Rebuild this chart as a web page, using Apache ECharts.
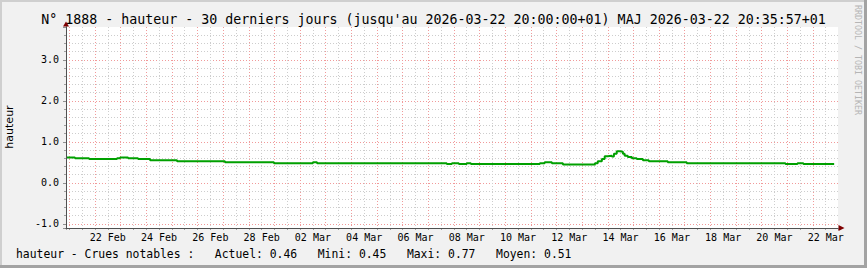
<!DOCTYPE html>
<html>
<head>
<meta charset="utf-8">
<script src="https://cdn.jsdelivr.net/npm/echarts@6/dist/echarts.min.js"></script>
<style>
html,body{margin:0;padding:0;background:#f1f1f1;}
#c{width:867px;height:268px;}
</style>
</head>
<body>
<div id="c"></div>
<script>
// time in days since 22 Feb 2026 00:00 (+01); each value holds until the next time (step)
const days = [-1.13, -0.78, -0.23, 0.86, 0.98, 1.29, 1.68, 2.15, 3.2, 5.07, 6.98, 8.5, 8.66, 13.72, 13.92, 14.19, 14.5, 14.66, 17.35, 17.54, 17.82, 18.25, 19.5, 19.61, 19.77, 19.88, 20.0, 20.16, 20.24, 20.35, 20.47, 20.59, 20.66, 20.78, 20.94, 21.13, 21.37, 21.6, 22.34, 23.08, 26.93, 27.4, 27.63, 28.83];
const values = [0.62, 0.60, 0.58, 0.60, 0.62, 0.60, 0.58, 0.55, 0.53, 0.50, 0.48, 0.50, 0.48, 0.46, 0.48, 0.46, 0.48, 0.46, 0.48, 0.50, 0.48, 0.45, 0.48, 0.53, 0.58, 0.65, 0.66, 0.64, 0.71, 0.77, 0.76, 0.71, 0.66, 0.63, 0.60, 0.58, 0.55, 0.53, 0.50, 0.48, 0.46, 0.48, 0.46, 0.46];
// x labels every 2 days (day offsets 0,2,...,28), centred at noon
const xTickLabels = ['22 Feb','24 Feb','26 Feb','28 Feb','02 Mar','04 Mar','06 Mar','08 Mar','10 Mar','12 Mar','14 Mar','16 Mar','18 Mar','20 Mar','22 Mar'];
const yTickLabels = ['-1.0','0.0','1.0','2.0','3.0'];
const statNames = ['Actuel','Mini','Maxi','Moyen'];
const statValues = [0.46, 0.45, 0.77, 0.51];
const titleText = "N° 1888 - hauteur - 30 derniers jours (jusqu'au 2026-03-22 20:00:00+01) MAJ 2026-03-22 20:35:57+01";

const xMin = -1.13, xMax = 28.98, yMin = -1.1, yMax = 3.8;
const MONO = 'DejaVu Sans Mono';
const minorGrid = {color:'#CDCDCD', type:[1,2], width:1};
const majorGrid = {color:'#F19A9A', type:[1,2], width:1};

const legendText = 'hauteur - Crues notables :   ' +
  statNames.map(function(n,i){ return n + ': ' + statValues[i].toFixed(2); }).join('   ');

const chart = echarts.init(document.getElementById('c'), null, {renderer:'svg', width:867, height:268});

const base = {type:'value', axisLine:{show:false, onZero:false}, axisTick:{show:false}, axisLabel:{show:false}, splitLine:{show:false}};

chart.setOption({
  animation:false,
  backgroundColor:'#F1F1F1',
  grid:{left:66, right:29, top:27, bottom:40, show:true, backgroundColor:'#FFFFFF', borderWidth:0},
  xAxis:[
    Object.assign({}, base, {min:xMin, max:xMax, position:'bottom', splitNumber:60, minInterval:0.5, maxInterval:0.5,
      axisTick:{show:true, length:2, lineStyle:{color:'#A0A0A0'}},
      splitLine:{show:true, showMinLine:false, showMaxLine:false, lineStyle:minorGrid}}),
    Object.assign({}, base, {min:xMin, max:xMax, position:'bottom', splitNumber:30, minInterval:1, maxInterval:1,
      axisLine:{show:true, onZero:false, symbol:['none','triangle'], symbolSize:[6,6], symbolOffset:[0,3.5], lineStyle:{color:'#7F0000', width:1}},
      splitLine:{show:true, showMinLine:false, showMaxLine:false, lineStyle:majorGrid}}),
    Object.assign({}, base, {min:xMin-0.5, max:xMax-0.5, position:'bottom', splitNumber:15, minInterval:2, maxInterval:2,
      axisLabel:{show:true, margin:4, fontFamily:MONO, fontSize:10, color:'#000',
        formatter:function(v){ const k = Math.round(v/2); return (Math.abs(v-2*k) < 1e-6 && xTickLabels[k]) ? xTickLabels[k] : ''; }}}),
    Object.assign({}, base, {min:xMin, max:xMax, position:'bottom', z:5,
      axisLine:{show:true, onZero:false, lineStyle:{color:'#505050', width:1}}})
  ],
  yAxis:[
    Object.assign({}, base, {min:yMin, max:yMax, position:'left', splitNumber:25, minInterval:0.2, maxInterval:0.2,
      axisTick:{show:true, length:2, lineStyle:{color:'#A0A0A0'}},
      splitLine:{show:true, showMinLine:false, showMaxLine:false, lineStyle:minorGrid}}),
    Object.assign({}, base, {min:yMin, max:yMax, position:'left', splitNumber:5, minInterval:1, maxInterval:1,
      axisLine:{show:true, onZero:false, symbol:['none','triangle'], symbolSize:[6,5], symbolOffset:[0,3], lineStyle:{color:'#7F0000', width:1}},
      axisTick:{show:true, length:3, lineStyle:{color:'#909090'}},
      axisLabel:{show:true, margin:7, fontFamily:MONO, fontSize:10, color:'#000',
        formatter:function(v){ const k = Math.round(v); return Math.abs(v-k) < 1e-6 && yTickLabels[k+1] ? yTickLabels[k+1] : ''; }},
      splitLine:{show:true, showMinLine:false, showMaxLine:false, lineStyle:majorGrid}}),
    Object.assign({}, base, {min:yMin, max:yMax, position:'left', z:5,
      axisLine:{show:true, onZero:false, lineStyle:{color:'#505050', width:1}}})
  ],
  series:[{
    type:'line', xAxisIndex:0, yAxisIndex:0, step:'end', showSymbol:false, symbol:'none', z:3,
    lineStyle:{color:'#00A000', width:2}, itemStyle:{color:'#00A000'},
    data: days.map(function(d,i){ return [d, values[i]]; })
  }],
  graphic:[
    {type:'rect', z:10, shape:{x:0, y:0, width:867, height:2}, style:{fill:'#CFCFCF'}},
    {type:'rect', z:10, shape:{x:0, y:0, width:2, height:268}, style:{fill:'#CFCFCF'}},
    {type:'rect', z:10, shape:{x:864, y:0, width:3, height:268}, style:{fill:'#A3A3A3'}},
    {type:'rect', z:10, shape:{x:0, y:265, width:867, height:3}, style:{fill:'#A3A3A3'}},
    {type:'text', z:10, x:433.5, y:19, style:{text:titleText, font:'13.3px "DejaVu Sans Mono"', fill:'#000', align:'center', verticalAlign:'middle'}},
    {type:'text', z:10, x:16, y:254, style:{text:legendText, font:'11.4px "DejaVu Sans Mono"', fill:'#000', align:'left', verticalAlign:'middle'}},
    {type:'text', z:10, x:9, y:127, rotation:Math.PI/2, style:{text:'hauteur', font:'11px "DejaVu Sans"', fill:'#000', align:'center', verticalAlign:'middle'}},
    {type:'text', z:10, x:858, y:5, rotation:-Math.PI/2, style:{text:'RRDTOOL / TOBI OETIKER', font:'8.3px "DejaVu Sans Mono"', fill:'#B5B5B5', align:'left', verticalAlign:'middle'}}
  ]
});
</script>
</body>
</html>
